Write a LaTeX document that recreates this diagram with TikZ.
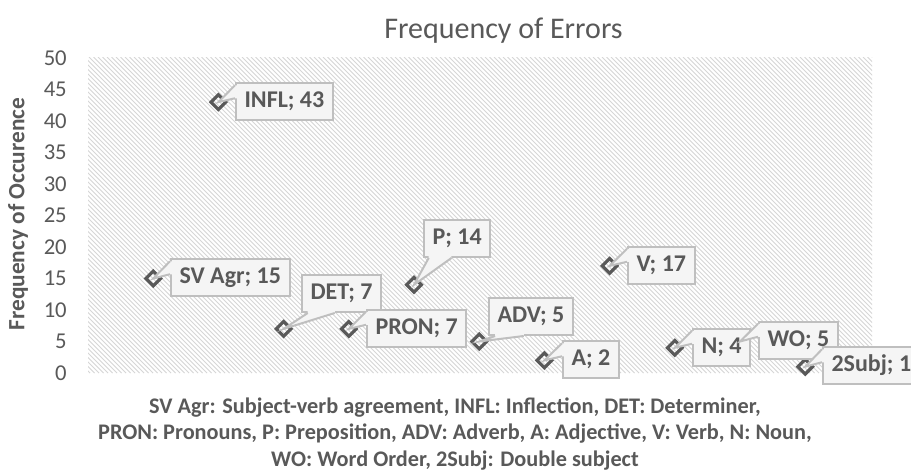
\documentclass[tikz,border=0pt]{standalone}
\usepackage{fontspec}
\setmainfont{Carlito}
\usetikzlibrary{calc,shapes.geometric}
\definecolor{txt}{HTML}{595959}
\definecolor{bord}{HTML}{BFBFBF}
\definecolor{hatch}{HTML}{D6D6D6}
\definecolor{boxfill}{HTML}{F5F5F5}

% tail of a data label that leaves the left side of the box
\newcommand\tailleft[2]{%
  \coordinate (#1a) at ($(#1.north west)!0.0833!(#1.south west)$);
  \coordinate (#1b) at ($(#1.north west)!0.4167!(#1.south west)$);
  \fill[boxfill] ($(#1a)+(1.6pt,0)$) -- (#1a) -- (#2.center) -- (#1b) -- ($(#1b)+(1.6pt,0)$) -- cycle;
  \draw[tailline] (#1a) -- (#2.center) -- (#1b);}
% tail of a data label that leaves the bottom side of the box
\newcommand\tailbottom[2]{%
  \coordinate (#1a) at ($(#1.south west)!0.0833!(#1.south east)$);
  \coordinate (#1b) at ($(#1.south west)!0.4167!(#1.south east)$);
  \fill[boxfill] ($(#1a)+(0,1.6pt)$) -- (#1a) -- (#2.center) -- (#1b) -- ($(#1b)+(0,1.6pt)$) -- cycle;
  \draw[tailline] (#1a) -- (#2.center) -- (#1b);}

\begin{document}
\begin{tikzpicture}[x=0.75pt,y=-0.75pt,
  mk/.style={shape=diamond, draw=txt, line width=2.4pt, minimum width=12pt,
    minimum height=12pt, inner sep=0pt},
  lbl/.style={anchor=west, fill=boxfill, draw=bord, line width=1.5pt,
    font=\fontsize{18}{20}\selectfont\bfseries, text=txt, inner xsep=6.4pt,
    inner ysep=0pt, minimum height=27.75pt},
  tailline/.style={draw=bord, line width=1.5pt},
  tick/.style={anchor=east, font=\fontsize{17}{19}\selectfont, text=txt, inner sep=0pt},
]
\useasboundingbox (0,0) rectangle (911,475);
\fill[white] (0,0) rectangle (911,475);

% hatched plot area
\begin{scope}
  \clip (88,57) rectangle (872,373);
  \foreach \i in {-316,-311.5,...,872} \draw[hatch, line width=0.7pt] (\i,57) -- ++(316,316);
\end{scope}

% title and axis texts
\node[font=\fontsize{22.5}{24}\selectfont, text=txt] (title) at (503.5,31) {Frequency of Errors};
\foreach \v in {0,5,...,50} \node[tick] (t\v) at (67,{373-6.3*\v}) {\v};
\node[rotate=90, font=\fontsize{17.5}{19}\selectfont\bfseries, text=txt] (ytitle) at (18,214) {Frequency of Occurence};
\node[align=center, font=\fontsize{16.7}{20.2}\selectfont\bfseries, text=txt] (cap) at (455,434)
  {SV Agr: Subject-verb agreement, INFL: Inflection, DET: Determiner,\\
   PRON: Pronouns, P: Preposition, ADV: Adverb, A: Adjective, V: Verb, N: Noun,\\
   WO: Word Order, 2Subj: Double subject};

% data points
\node[mk] (m1)  at ({88+65.2*1},{373-6.3*15}) {};
\node[mk] (m2)  at ({88+65.2*2},{373-6.3*43}) {};
\node[mk] (m3)  at ({88+65.2*3},{373-6.3*7}) {};
\node[mk] (m4)  at ({88+65.2*4},{373-6.3*7}) {};
\node[mk] (m5)  at ({88+65.2*5},{373-6.3*14}) {};
\node[mk] (m6)  at ({88+65.2*6},{373-6.3*5}) {};
\node[mk] (m7)  at ({88+65.2*7},{373-6.3*2}) {};
\node[mk] (m8)  at ({88+65.2*8},{373-6.3*17}) {};
\node[mk] (m9)  at ({88+65.2*9},{373-6.3*4}) {};
\node[mk] (m10) at ({88+65.2*10},{373-6.3*5}) {};
\node[mk] (m11) at ({88+65.2*11},{373-6.3*1}) {};

% data labels
\node[lbl] (l1) at (170,277.5) {SV Agr; 15}; \tailleft{l1}{m1}
\node[lbl] (l2) at (235,101.5) {INFL; 43};   \tailleft{l2}{m2}
\node[lbl] (l3) at (301,293.5) {DET; 7};     \tailbottom{l3}{m3}
\node[lbl] (l4) at (366,328)   {PRON; 7};    \tailleft{l4}{m4}
\node[lbl] (l5) at (423,238.5) {P; 14};      \tailbottom{l5}{m5}
\node[lbl] (l6) at (488,316.5) {ADV; 5};     \tailbottom{l6}{m6}
\node[lbl] (l7) at (562,359.5) {A; 2};       \tailleft{l7}{m7}
\node[lbl] (l8) at (627,265)   {V; 17};      \tailleft{l8}{m8}
\node[lbl] (l9) at (692,347)   {N; 4};       \tailleft{l9}{m9}
\node[lbl] (l10) at (758,340)  {WO; 5};      \tailleft{l10}{m10}
\node[lbl] (l11) at (822,365.5) {2Subj; 1};  \tailleft{l11}{m11}
\end{tikzpicture}
\end{document}
